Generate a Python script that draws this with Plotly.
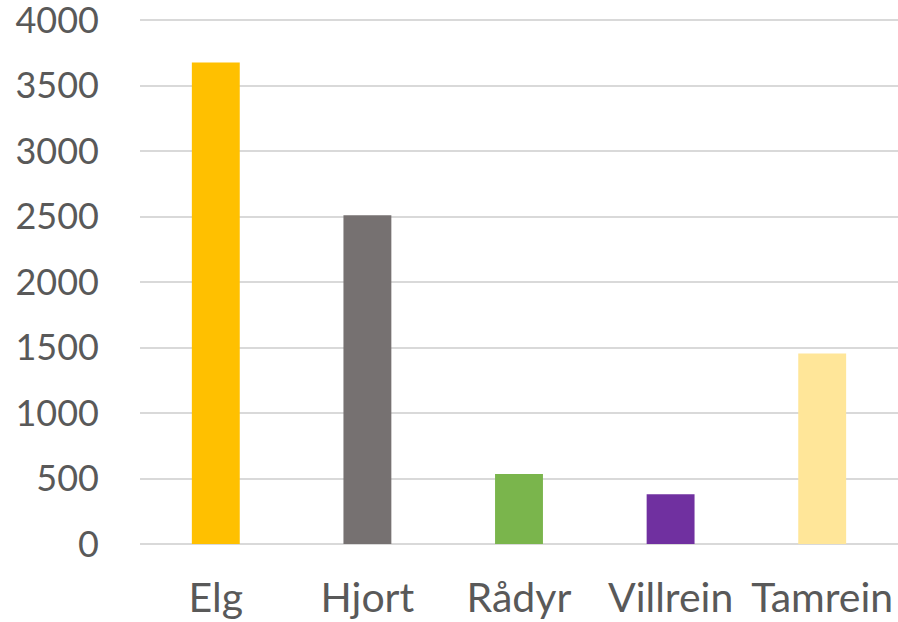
import plotly.graph_objects as go

# Data
arter = ['Elg', 'Hjort', 'Rådyr', 'Villrein', 'Tamrein']
antall = [3675, 2510, 535, 380, 1455]
farger = ['#FFC000', '#767171', '#7AB54C', '#7030A0', '#FFE699']
y_ticks = [0, 500, 1000, 1500, 2000, 2500, 3000, 3500, 4000]

fig = go.Figure(go.Bar(x=arter, y=antall, marker_color=farger,
                       marker_line_width=0, width=0.316))

fig.update_layout(
    width=898, height=622,
    margin=dict(l=140, r=0, t=17, b=78),
    plot_bgcolor='white', paper_bgcolor='white',
    font=dict(family='Lato, Open Sans, sans-serif', color='#595959', size=30),
    showlegend=False,
)

# litt luft over 4000 slik at øverste gridlinje og etikett blir tegnet
fig.update_yaxes(range=[0, 4023], tickvals=y_ticks, showgrid=True,
                 gridcolor='#D9D9D9', gridwidth=1.5, zeroline=True,
                 zerolinecolor='#D9D9D9', zerolinewidth=1.5, automargin=False,
                 ticklabelstandoff=40, ticklabeloverflow='allow',
                 tickfont=dict(size=36))
fig.update_xaxes(showgrid=False, showline=False, ticklabelstandoff=26,
                 automargin=False, ticklabeloverflow='allow',
                 tickfont=dict(size=41))

# browserens standardmarg på body fjernes så figuren ligger i hjørnet
fig.write_html('out.html', config={'displayModeBar': False},
               post_script="document.body.style.margin='0';")
